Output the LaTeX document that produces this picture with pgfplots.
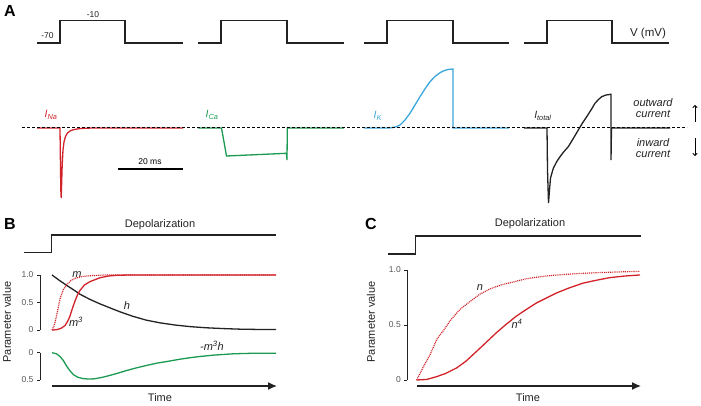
\documentclass[border=0pt]{standalone}
\usepackage{pgfplots}
\pgfplotsset{compat=1.18}
\usepackage{fontspec}
\setmainfont{Liberation Sans}
\usetikzlibrary{arrows.meta}

\definecolor{nared}{HTML}{D2232A}
\definecolor{cagreen}{HTML}{1B9A52}
\definecolor{kblue}{HTML}{3AA6DC}
\definecolor{ink}{HTML}{222222}
\definecolor{ticktxt}{HTML}{555555}

\newcommand{\lab}{\fontsize{11}{11}\selectfont}
\newcommand{\smalltxt}{\fontsize{8.5}{9}\selectfont}

\pgfplotsset{
  param/.style={scale only axis, axis x line=none, axis y line=left,
    axis line style={-, line width=1pt, ink}, tick align=outside,
    major tick length=3pt, tick style={line width=0.9pt, ink},
    yticklabel style={font=\smalltxt, text=ticktxt}, clip=false, no markers},
  curve/.style={line width=1.3pt},
  dots/.style={line width=1.2pt, dash pattern=on 1pt off 0.9pt},
}

\begin{document}
\begin{tikzpicture}
\useasboundingbox (0,0) rectangle (701pt,406pt);

% ---- pixel frame: panel A traces, steps, arrows and text
\begin{axis}[at={(0pt,406pt)}, anchor=north west, width=701pt, height=406pt,
  scale only axis, xmin=0, xmax=701, ymin=0, ymax=406, y dir=reverse,
  hide axis, clip=false, no markers]

% voltage steps
\addplot[ink, line width=1.3pt] coordinates {(37,43)(60,43)(60,20.7)(125,20.7)(125,43)(183,43)};
\addplot[ink, line width=1.3pt] coordinates {(198,43)(221,43)(221,20.7)(287,20.7)(287,43)(344,43)};
\addplot[ink, line width=1.3pt] coordinates {(364,43)(387,43)(387,20.7)(453,20.7)(453,43)(509,43)};
\addplot[ink, line width=1.3pt] coordinates {(524,43)(547,43)(547,20.7)(612,20.7)(612,43)(669,43)};

% currents
\addplot[nared, curve] coordinates {(37,128)(60,128)(60.4,160)(60.8,190)(61.2,198)(61.6,185)(62.2,165)(63,150)(64,142)(65.5,136.5)(67.5,133)(70,131)(73,129.8)(77,129)(82,128.4)(90,128.1)(100,128)(183,128)};
\addplot[cagreen, curve] coordinates {(198,128)(221.5,128)(226.5,156)(286.5,153.3)(287,160)(287.3,128)(344,128)};
\addplot[kblue, curve] coordinates {(364,128)(388,128)(392,127.7)(396,126.8)(400,125)(405,120)(410,113.3)(415,105)(420,96.7)(425,88.8)(430,81.7)(435,76.5)(440,72.7)(444,70.7)(448,69.5)(453,69)(453,128)(509,128)};
\addplot[ink, curve] coordinates {(524,128)(547,128)(547.5,170)(548.5,203)(549.5,190)(550.5,178)(553.3,168.3)(556.5,162)(560,156.7)(564,151.5)(568.3,146.7)(573,139)(578.3,130)(582.5,123)(586.7,116.7)(591,110)(595,103.3)(598.5,99.5)(601.7,96.7)(606,95)(611,94.3)(611,160)(611.5,128)(670,128)};

% zero-current line
\addplot[black, line width=1pt, dash pattern=on 2.5pt off 2.5pt] coordinates {(22,128)(687,128)};

% scale bar
\addplot[black, line width=1.2pt] coordinates {(118,169)(183,169)};
\node[font=\smalltxt] at (axis cs:150,162) {20 ms};

% direction arrows
\addplot[black, line width=0.8pt, -{To[length=3pt,width=5pt]}] coordinates {(695,122)(695,105)};
\addplot[black, line width=0.8pt, -{To[length=3pt,width=5pt]}] coordinates {(695,138)(695,156)};

% panel A text
\node[font=\fontsize{16}{16}\selectfont\bfseries] at (axis cs:10,11) {A};
\node[font=\smalltxt, text=ink] at (axis cs:93,14.5) {-10};
\node[font=\smalltxt, text=ink] at (axis cs:47.5,36) {-70};
\node[font=\fontsize{11.5}{12}\selectfont, text=ink] at (axis cs:648,33.5) {V (mV)};
\node[font=\fontsize{10.5}{10}\selectfont, text=nared] at (axis cs:51,115) {\textit{I}\textsubscript{\textit{Na}}};
\node[font=\fontsize{10.5}{10}\selectfont, text=cagreen] at (axis cs:212,115) {\textit{I}\textsubscript{\textit{Ca}}};
\node[font=\fontsize{10.5}{10}\selectfont, text=kblue] at (axis cs:378,116) {\textit{I}\textsubscript{\textit{K}}};
\node[font=\fontsize{10.5}{10}\selectfont, text=ink] at (axis cs:543,116) {\textit{I}\textsubscript{\textit{total}}};
\node[font=\fontsize{11}{11}\selectfont\itshape, align=center, text=ink] at (axis cs:653,108.5) {outward\\current};
\node[font=\fontsize{11}{11}\selectfont\itshape, align=center, text=ink] at (axis cs:653,148.5) {inward\\current};

% panel B frame
\node[font=\fontsize{16}{16}\selectfont\bfseries] at (axis cs:10,224) {B};
\addplot[ink, line width=1.3pt] coordinates {(24,252.7)(51.5,252.7)(51.5,235)(276,235)};
\node[font=\lab, text=ink] at (axis cs:160,225) {Depolarization};
\addplot[ink, line width=1.3pt, -{Latex[length=9pt,width=8pt]}] coordinates {(52,386)(277,386)};
\node[font=\lab, text=ink] at (axis cs:160,398) {Time};
\node[font=\lab, text=ink, rotate=90] at (axis cs:7,322) {Parameter value};

% panel C frame
\node[font=\fontsize{16}{16}\selectfont\bfseries] at (axis cs:371,224) {C};
\addplot[ink, line width=1.3pt] coordinates {(388.3,254)(415.7,254)(415.7,236)(640.7,236)};
\node[font=\lab, text=ink] at (axis cs:530,224) {Depolarization};
\addplot[ink, line width=1.3pt, -{Latex[length=9pt,width=8pt]}] coordinates {(416.7,386)(641,386)};
\node[font=\lab, text=ink] at (axis cs:528,398) {Time};
\node[font=\lab, text=ink, rotate=90] at (axis cs:371,322) {Parameter value};

% curve labels
\node[font=\lab\itshape, text=ink] at (axis cs:77,275) {m};
\node[font=\lab\itshape, text=ink] at (axis cs:127,306) {h};
\node[font=\lab\itshape, text=ink] at (axis cs:76,322) {m\textsuperscript{3}};
\node[font=\lab\itshape, text=ink] at (axis cs:212,346) {-m\textsuperscript{3}h};
\node[font=\lab\itshape, text=ink] at (axis cs:480,288) {n};
\node[font=\lab\itshape, text=ink] at (axis cs:517,324) {n\textsuperscript{4}};
\end{axis}

% ---- panel B, gating variables
\begin{axis}[param, at={(40pt,131pt)}, anchor=north west, width=236pt, height=55pt,
  xmin=-0.536, xmax=10, ymin=0, ymax=1, ytick={0,0.5,1}, yticklabels={0,0.5,1.0}]
\addplot[ink, curve] coordinates {(0,1)(0.3,0.91)(0.66,0.81)(1.0,0.72)(1.25,0.65)(1.7,0.555)(2.14,0.475)(2.6,0.4)(3.04,0.33)(3.6,0.25)(4.2,0.18)(4.82,0.13)(5.5,0.09)(6.2,0.06)(6.9,0.04)(7.7,0.025)(8.4,0.015)(9.2,0.01)(10,0.01)};
\addplot[nared, dots] coordinates {(0,0)(0.1,0.08)(0.21,0.27)(0.3,0.45)(0.36,0.57)(0.5,0.73)(0.66,0.83)(0.88,0.91)(1.1,0.95)(1.4,0.975)(1.8,0.99)(2.4,1)(10,1)};
\addplot[nared, curve] coordinates {(0,0)(0.2,0.005)(0.4,0.03)(0.58,0.08)(0.7,0.16)(0.8,0.25)(0.9,0.38)(1.03,0.53)(1.15,0.65)(1.25,0.72)(1.45,0.82)(1.7,0.88)(2.14,0.95)(2.5,0.98)(2.9,0.995)(3.5,1)(10,1)};
\end{axis}

% ---- panel B, -m^3 h (inward, drawn downward)
\begin{axis}[param, at={(40pt,53.3pt)}, anchor=north west, width=236pt, height=27.3pt,
  xmin=-0.536, xmax=10, ymin=0, ymax=0.5, y dir=reverse, ytick={0,0.5}, yticklabels={0,0.5}]
\addplot[cagreen, curve] coordinates {(0,0)(0.2,0.02)(0.36,0.07)(0.5,0.14)(0.66,0.25)(0.8,0.33)(0.95,0.40)(1.15,0.45)(1.4,0.475)(1.65,0.483)(1.9,0.478)(2.2,0.455)(2.5,0.425)(2.9,0.38)(3.3,0.33)(3.7,0.285)(4.2,0.235)(4.7,0.19)(5.15,0.16)(5.7,0.12)(6.2,0.09)(6.6,0.07)(7.2,0.045)(8.1,0.02)(9,0.01)(10,0.01)};
\end{axis}

% ---- panel C, n and n^4
\begin{axis}[param, at={(407.3pt,136pt)}, anchor=north west, width=232.7pt, height=110pt,
  xmin=-0.42, xmax=10, ymin=0, ymax=1, ytick={0,0.5,1}, yticklabels={0,0.5,1.0}]
\addplot[nared, dots] coordinates {(0,0)(0.3,0.12)(0.6,0.23)(0.9,0.37)(1.2,0.45)(1.5,0.54)(1.93,0.64)(2.3,0.70)(2.83,0.78)(3.3,0.83)(3.8,0.865)(4.4,0.895)(4.9,0.92)(5.4,0.935)(6,0.95)(7,0.965)(8,0.975)(9,0.982)(10,0.988)};
\addplot[nared, curve] coordinates {(0,0)(0.45,0.005)(0.89,0.03)(1.3,0.06)(1.79,0.11)(2.2,0.17)(2.68,0.26)(3.1,0.34)(3.57,0.43)(4.0,0.505)(4.46,0.58)(4.9,0.64)(5.36,0.70)(5.8,0.745)(6.25,0.79)(6.8,0.835)(7.44,0.88)(8,0.905)(8.63,0.93)(9.3,0.945)(10,0.955)};
\end{axis}
\end{tikzpicture}
\end{document}
